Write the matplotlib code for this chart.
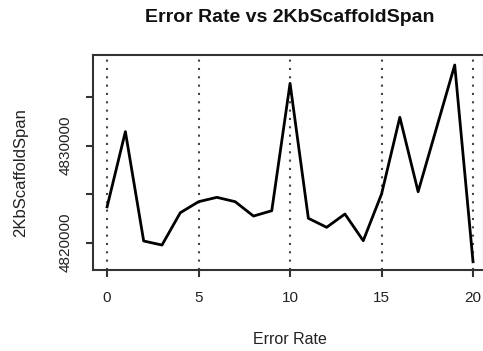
import matplotlib
matplotlib.use("Agg")
import matplotlib.pyplot as plt

# values
error_rate = list(range(0, 21))
span = [4823700, 4831450, 4820180, 4819760, 4823090, 4824230, 4824680,
        4824230, 4822750, 4823300, 4836430, 4822520, 4821590, 4822960,
        4820210, 4825020, 4832930, 4825260, 4831800, 4838320, 4818040]
xticks = [0, 5, 10, 15, 20]
yticks = [4820000, 4825000, 4830000, 4835000]
ylabels = ["4820000", "", "4830000", ""]

plt.rcParams['font.family'] = ['Liberation Sans', 'DejaVu Sans']

fig = plt.figure(figsize=(4.83, 3.51), dpi=100)
ax = fig.add_axes([93 / 483, 1 - 270 / 351, 391 / 483, 215 / 351])

# dotted verticals at the x ticks
for x in xticks:
    ax.axvline(x, color='#444444', linestyle=(0, (1, 3)), linewidth=1.5, zorder=1)

ax.plot(error_rate, span, color='black', linewidth=2, zorder=2)

ax.set_xlim(-0.77, 20.6)
ax.set_ylim(4817190, 4839350)
ax.set_xticks(xticks)
ax.set_yticks(yticks)
ax.set_yticklabels(ylabels, rotation=90, va='center')

for side in ['left', 'bottom', 'top', 'right']:
    ax.spines[side].set_color('#333333')
    ax.spines[side].set_linewidth(1.5)

ax.tick_params(axis='both', direction='out', length=5, width=1.5,
               color='#333333', labelsize=11, labelcolor='#222222')
ax.tick_params(axis='y', pad=10)
ax.tick_params(axis='x', pad=10)

ax.set_xlabel('Error Rate', fontsize=11.5, color='#222222', va='center')
ax.xaxis.set_label_coords((290 - 93) / 391, -(340 - 270) / 215)
ax.set_ylabel('2KbScaffoldSpan', fontsize=12, color='#222222', va='center')
ax.yaxis.set_label_coords(-(93 - 21) / 391, (270 - 173) / 215)

fig.text(290 / 483, 1 - 17 / 351, 'Error Rate vs 2KbScaffoldSpan',
         ha='center', va='center', fontsize=14, fontweight='bold', color='#111111')

fig.savefig('out.png', dpi=100)
